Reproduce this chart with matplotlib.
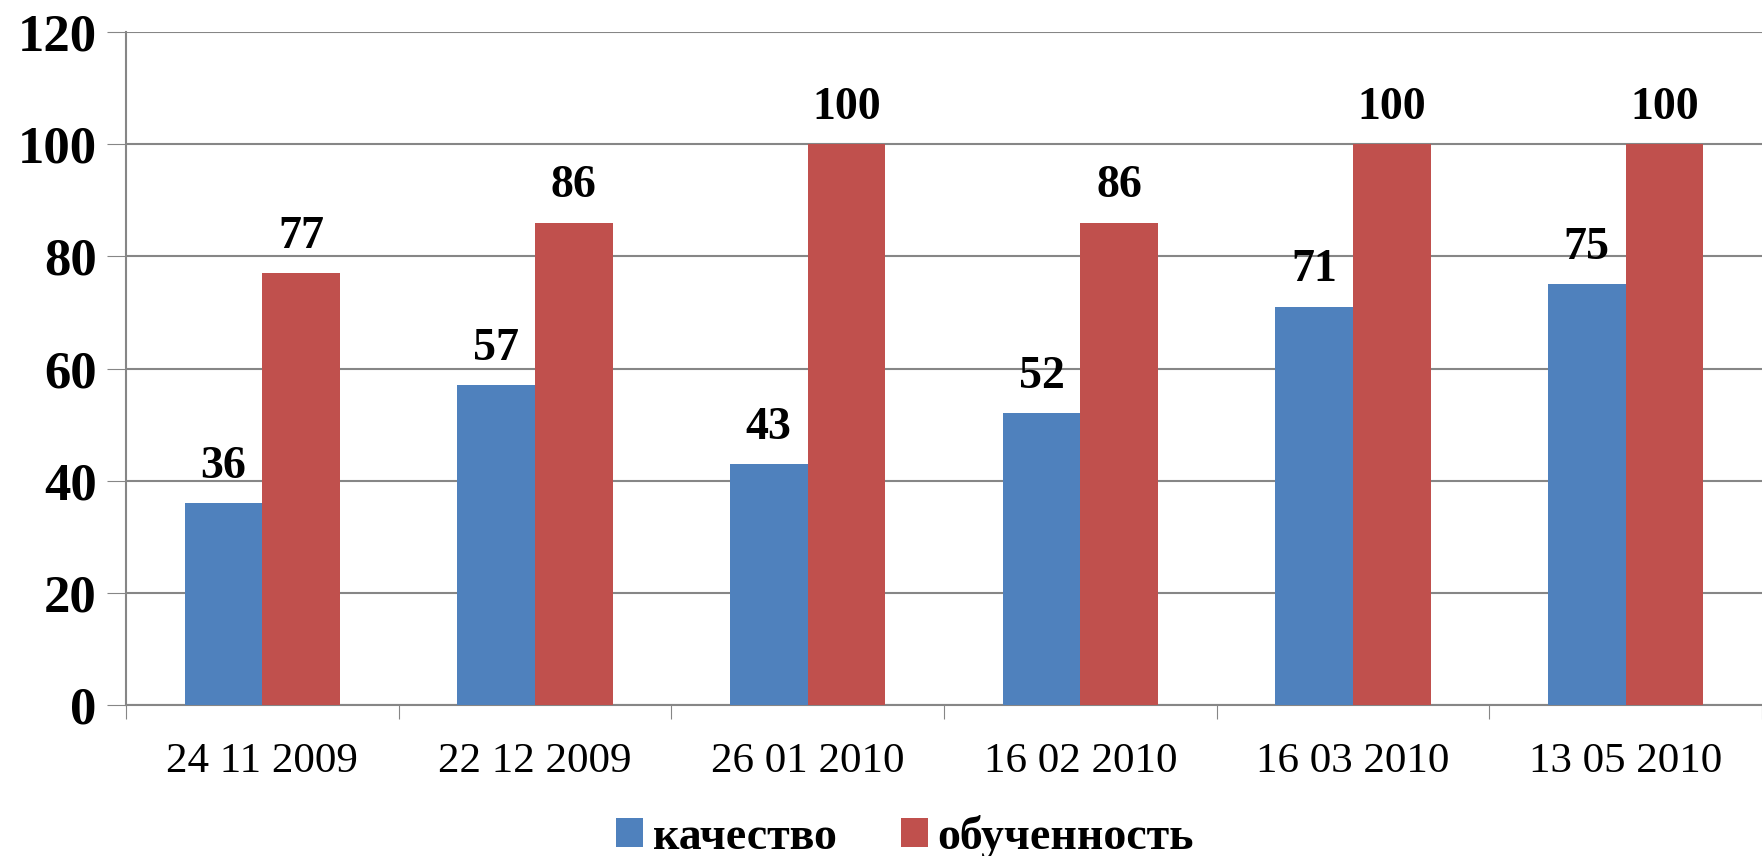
import numpy as np
import matplotlib.pyplot as plt

dates = ["24 11 2009", "22 12 2009", "26 01 2010", "16 02 2010", "16 03 2010", "13 05 2010"]
kachestvo = [36, 57, 43, 52, 71, 75]
obuchennost = [77, 86, 100, 86, 100, 100]

plt.rcParams['font.family'] = ['Liberation Serif', 'DejaVu Serif']

fig = plt.figure(figsize=(17.62, 8.56), dpi=100)
ax = fig.add_axes([0.0715, 0.176, 0.9285, 0.787])

x = np.arange(len(dates))
w = 0.285
b1 = ax.bar(x - w / 2, kachestvo, w, color="#4F81BD", label="качество", zorder=3)
b2 = ax.bar(x + w / 2, obuchennost, w, color="#C0504D", label="обученность", zorder=3)

for bars in (b1, b2):
    ax.bar_label(bars, padding=11, fontsize=33, fontweight="bold", zorder=4)

ax.set_xlim(-0.5, len(dates) - 0.5)
ax.set_ylim(0, 120)
ax.set_yticks(range(0, 121, 20))
ax.tick_params(axis="y", labelsize=38, length=14, color="#868686", pad=7)
for lbl in ax.get_yticklabels():
    lbl.set_fontweight("bold")

ax.set_xticks(np.arange(len(dates) + 1) - 0.5, minor=False)
ax.set_xticklabels([])
ax.set_xticks(x, minor=True)
ax.set_xticklabels(dates, minor=True, fontsize=31)
ax.tick_params(axis="x", which="major", length=10, color="#868686")
ax.tick_params(axis="x", which="minor", length=0, pad=27)

ax.yaxis.grid(True, color="#868686", linewidth=1.5, zorder=0)
for s in ("top", "right"):
    ax.spines[s].set_visible(False)
for s in ("left", "bottom"):
    ax.spines[s].set_color("#868686")
    ax.spines[s].set_linewidth(1.5)

ax.legend(loc="center", bbox_to_anchor=(0.476, -0.195), bbox_transform=ax.transAxes,
          ncol=2, frameon=False, prop={"size": 33, "weight": "bold"},
          handlelength=0.6, handleheight=0.6, handletextpad=0.2, columnspacing=1.4)

fig.savefig("out.png", dpi=100)
